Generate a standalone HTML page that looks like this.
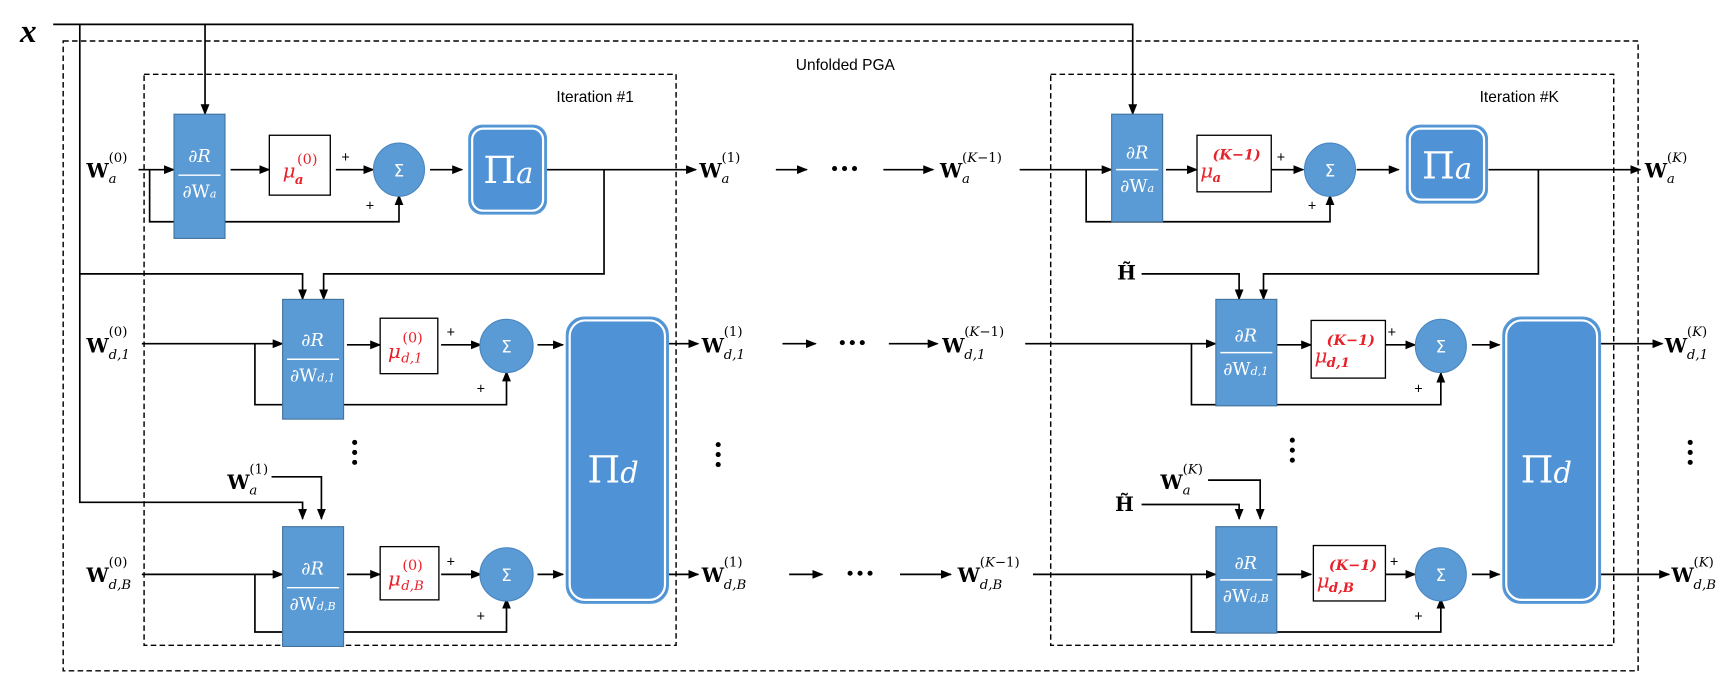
<!DOCTYPE html>
<html><head><meta charset="utf-8"><style>html,body{margin:0;padding:0;background:#fff;}svg{display:block}</style></head>
<body>
<svg width="1729" height="693" viewBox="0 0 1560 625" preserveAspectRatio="none" xmlns="http://www.w3.org/2000/svg" font-family="Liberation Serif, serif">
<defs>
<marker id="ar" markerWidth="10" markerHeight="8" refX="9" refY="4" orient="auto" markerUnits="userSpaceOnUse"><path d="M0,0 L10,4 L0,8 Z" fill="#000"/></marker>
</defs>
<g fill="none" stroke="#000" stroke-width="1.3" stroke-dasharray="5,3">
<rect x="57" y="37" width="1421" height="568"/>
<rect x="130" y="67" width="480" height="515"/>
<rect x="948" y="67" width="508" height="515"/>
</g>
<g font-family="Liberation Sans, sans-serif" font-size="14" fill="#000">
<text x="718" y="63">Unfolded PGA</text>
<text x="502" y="92">Iteration #1</text>
<text x="1335" y="92">Iteration #K</text>
</g>
<text x="18" y="38" font-size="30" font-style="italic" font-weight="bold">x</text>

<g fill="none" stroke="#000" stroke-width="1.5">
<path d="M48,22 H1022 V103" marker-end="url(#ar)"/>
<path d="M185,22 V103" marker-end="url(#ar)"/>
<path d="M72,22 V453 H273 V468" marker-end="url(#ar)"/>
<path d="M72,247 H273 V270" marker-end="url(#ar)"/>
<path d="M125,153 H157" marker-end="url(#ar)"/>
<path d="M135,153 V200 H360 V176" marker-end="url(#ar)"/>
<path d="M208,153 H243" marker-end="url(#ar)"/>
<path d="M303,153 H337" marker-end="url(#ar)"/>
<path d="M388,153 H417" marker-end="url(#ar)"/>
<path d="M493,153 H628" marker-end="url(#ar)"/>
<path d="M545,153 V247 H292 V270" marker-end="url(#ar)"/>
<path d="M128,310 H255" marker-end="url(#ar)"/>
<path d="M230,310 V365 H457 V335" marker-end="url(#ar)"/>
<path d="M313,311 H343" marker-end="url(#ar)"/>
<path d="M398,311 H434" marker-end="url(#ar)"/>
<path d="M485,311 H508" marker-end="url(#ar)"/>
<path d="M603,310 H630" marker-end="url(#ar)"/>
<path d="M245,430 H290 V468" marker-end="url(#ar)"/>
<path d="M128,518 H255" marker-end="url(#ar)"/>
<path d="M230,518 V570 H457 V540" marker-end="url(#ar)"/>
<path d="M313,518 H343" marker-end="url(#ar)"/>
<path d="M398,518 H434" marker-end="url(#ar)"/>
<path d="M485,518 H508" marker-end="url(#ar)"/>
<path d="M603,518 H630" marker-end="url(#ar)"/>
<!-- middle -->
<path d="M700,153 H728" marker-end="url(#ar)"/>
<path d="M797,153 H842" marker-end="url(#ar)"/>
<path d="M706,310 H736" marker-end="url(#ar)"/>
<path d="M802,310 H846" marker-end="url(#ar)"/>
<path d="M712,518 H742" marker-end="url(#ar)"/>
<path d="M812,518 H858" marker-end="url(#ar)"/>
</g>
<g fill="none" stroke="#000" stroke-width="1.5">
<path d="M920,153 H1003" marker-end="url(#ar)"/>
<path d="M980,153 V200 H1200 V176" marker-end="url(#ar)"/>
<path d="M1052,153 H1080" marker-end="url(#ar)"/>
<path d="M1147,153 H1176" marker-end="url(#ar)"/>
<path d="M1224,153 H1262" marker-end="url(#ar)"/>
<path d="M1343,153 H1480" marker-end="url(#ar)"/>
<path d="M1388,153 V247 H1140 V270" marker-end="url(#ar)"/>
<path d="M1030,247 H1118 V270" marker-end="url(#ar)"/>
<path d="M925,310 H1097" marker-end="url(#ar)"/>
<path d="M1075,310 V365 H1300 V336" marker-end="url(#ar)"/>
<path d="M1152,311 H1183" marker-end="url(#ar)"/>
<path d="M1250,311 H1277" marker-end="url(#ar)"/>
<path d="M1328,311 H1353" marker-end="url(#ar)"/>
<path d="M1443,310 H1500" marker-end="url(#ar)"/>
<path d="M1090,433 H1137 V468" marker-end="url(#ar)"/>
<path d="M1030,455 H1118 V468" marker-end="url(#ar)"/>
<path d="M932,518 H1097" marker-end="url(#ar)"/>
<path d="M1075,518 V570 H1300 V540" marker-end="url(#ar)"/>
<path d="M1152,518 H1183" marker-end="url(#ar)"/>
<path d="M1250,518 H1277" marker-end="url(#ar)"/>
<path d="M1328,518 H1353" marker-end="url(#ar)"/>
<path d="M1443,518 H1506" marker-end="url(#ar)"/>
</g>

<g font-family="Liberation Sans, sans-serif" font-size="13" fill="#000">
<text x="308" y="146">+</text><text x="330" y="190">+</text>
<text x="403" y="304">+</text><text x="430" y="355">+</text>
<text x="403" y="511">+</text><text x="430" y="560">+</text>
<text x="1152" y="146">+</text><text x="1180" y="190">+</text>
<text x="1252" y="304">+</text><text x="1276" y="355">+</text>
<text x="1254" y="511">+</text><text x="1276" y="560">+</text>
</g>

<g fill="#5b9bd5" stroke="#41719c" stroke-width="1">
<rect x="157" y="103" width="46" height="112"/>
<rect x="255" y="270" width="55" height="108"/>
<rect x="255" y="475" width="55" height="108"/>
<rect x="1003" y="103" width="46" height="97"/>
<rect x="1097" y="270" width="55" height="96"/>
<rect x="1097" y="475" width="55" height="96"/>
</g>
<g stroke="#fff" stroke-width="1.3">
<path d="M161,158 H199"/><path d="M259,324 H306"/><path d="M259,530 H306"/>
<path d="M1007,153 H1045"/><path d="M1101,318 H1148"/><path d="M1101,523 H1148"/>
</g>
<g fill="#fff" font-family="DejaVu Serif, serif" font-size="16" text-anchor="middle">
<text x="180" y="146" font-style="italic">∂R</text><text x="180" y="178">∂W<tspan font-size="10" font-style="italic">a</tspan></text>
<text x="282" y="312" font-style="italic">∂R</text><text x="282" y="344">∂W<tspan font-size="10" font-style="italic">d,1</tspan></text>
<text x="282" y="518" font-style="italic">∂R</text><text x="282" y="550">∂W<tspan font-size="10" font-style="italic">d,B</tspan></text>
<text x="1026" y="143" font-style="italic">∂R</text><text x="1026" y="173">∂W<tspan font-size="10" font-style="italic">a</tspan></text>
<text x="1124" y="308" font-style="italic">∂R</text><text x="1124" y="338">∂W<tspan font-size="10" font-style="italic">d,1</tspan></text>
<text x="1124" y="513" font-style="italic">∂R</text><text x="1124" y="543">∂W<tspan font-size="10" font-style="italic">d,B</tspan></text>
</g>

<g fill="#fff" stroke="#000" stroke-width="1.2">
<rect x="243" y="122" width="55" height="54"/>
<rect x="343" y="287" width="52" height="50"/>
<rect x="343" y="493" width="53" height="48"/>
<rect x="1080" y="122" width="67" height="51"/>
<rect x="1183" y="289" width="67" height="52"/>
<rect x="1185" y="492" width="65" height="50"/>
</g>
<g fill="#e8222a" font-family="DejaVu Serif, serif" font-style="italic">
<text x="255" y="160" font-size="18">μ</text><text x="268" y="148" font-size="13" font-style="normal">(0)</text><text x="266" y="166" font-size="12" font-weight="bold">a</text>
<text x="350" y="323" font-size="18">μ</text><text x="363" y="309" font-size="13" font-style="normal">(0)</text><text x="362" y="327" font-size="12">d,1</text>
<text x="350" y="528" font-size="18">μ</text><text x="363" y="514" font-size="13" font-style="normal">(0)</text><text x="362" y="532" font-size="12">d,B</text>
<text x="1083" y="160" font-size="18">μ</text><text x="1094" y="144" font-size="13" font-weight="bold">(K−1)</text><text x="1094" y="164" font-size="12" font-weight="bold">a</text>
<text x="1186" y="327" font-size="18">μ</text><text x="1197" y="311" font-size="13" font-weight="bold">(K−1)</text><text x="1197" y="331" font-size="12" font-weight="bold">d,1</text>
<text x="1188" y="530" font-size="18">μ</text><text x="1199" y="514" font-size="13" font-weight="bold">(K−1)</text><text x="1199" y="534" font-size="12" font-weight="bold">d,B</text>
</g>

<g fill="#5b9bd5" stroke="#4a86c0" stroke-width="1">
<ellipse cx="360" cy="153" rx="23" ry="24"/>
<ellipse cx="457" cy="312" rx="24" ry="24"/>
<ellipse cx="457" cy="518" rx="24" ry="24"/>
<ellipse cx="1200" cy="153" rx="23" ry="24"/>
<ellipse cx="1300" cy="312" rx="23" ry="24"/>
<ellipse cx="1300" cy="518" rx="23" ry="24"/>
</g>
<g fill="#fff" font-family="DejaVu Sans, sans-serif" font-size="15" text-anchor="middle">
<text x="360" y="159">Σ</text><text x="457" y="318">Σ</text><text x="457" y="524">Σ</text>
<text x="1200" y="159">Σ</text><text x="1300" y="318">Σ</text><text x="1300" y="524">Σ</text>
</g>

<g fill="#4f93d6" stroke="#5b9bd5" stroke-width="1.2">
<rect x="423" y="113" width="70" height="80" rx="12"/>
<rect x="511" y="286" width="92" height="258" rx="16"/>
<rect x="1269" y="113" width="73" height="70" rx="12"/>
<rect x="1356" y="286" width="88" height="258" rx="16"/>
</g>
<g fill="none" stroke="#fff" stroke-width="2">
<rect x="426" y="116" width="64" height="74" rx="10"/>
<rect x="514" y="289" width="86" height="252" rx="14"/>
<rect x="1272" y="116" width="67" height="64" rx="10"/>
<rect x="1359" y="289" width="82" height="252" rx="14"/>
</g>
<g fill="#fff" font-family="DejaVu Serif, serif">
<text x="436" y="165" font-size="34">Π<tspan font-size="26" font-style="italic">a</tspan></text>
<text x="530" y="435" font-size="34">Π<tspan font-size="26" font-style="italic">d</tspan></text>
<text x="1283" y="161" font-size="34">Π<tspan font-size="26" font-style="italic">a</tspan></text>
<text x="1372" y="435" font-size="34">Π<tspan font-size="26" font-style="italic">d</tspan></text>
</g>

<g fill="#000" font-family="DejaVu Serif, serif">
<g font-size="18" font-weight="bold">
<text x="78" y="160">W</text><text x="78" y="318">W</text><text x="78" y="525">W</text>
<text x="205" y="441">W</text>
<text x="631" y="160">W</text><text x="633" y="318">W</text><text x="633" y="525">W</text>
<text x="848" y="160">W</text><text x="850" y="318">W</text><text x="864" y="525">W</text>
<text x="1047" y="441">W</text>
<text x="1484" y="160">W</text><text x="1502" y="318">W</text><text x="1508" y="525">W</text>
<text x="1008" y="252">H̃</text><text x="1006" y="461">H̃</text>
</g>
<g font-size="12">
<text x="98" y="146">(0)</text><text x="98" y="303">(0)</text><text x="98" y="511">(0)</text>
<text x="225" y="427">(1)</text>
<text x="651" y="146">(1)</text><text x="653" y="303">(1)</text><text x="653" y="511">(1)</text>
<text x="868" y="146">(<tspan font-style="italic">K</tspan>−1)</text><text x="870" y="303">(<tspan font-style="italic">K</tspan>−1)</text><text x="884" y="511">(<tspan font-style="italic">K</tspan>−1)</text>
<text x="1067" y="427">(<tspan font-style="italic">K</tspan>)</text>
<text x="1504" y="146">(<tspan font-style="italic">K</tspan>)</text><text x="1522" y="303">(<tspan font-style="italic">K</tspan>)</text><text x="1528" y="511">(<tspan font-style="italic">K</tspan>)</text>
</g>
<g font-size="12" font-style="italic">
<text x="98" y="165">a</text><text x="98" y="324">d,1</text><text x="98" y="531">d,B</text>
<text x="225" y="446">a</text>
<text x="651" y="165">a</text><text x="653" y="324">d,1</text><text x="653" y="531">d,B</text>
<text x="868" y="165">a</text><text x="870" y="324">d,1</text><text x="884" y="531">d,B</text>
<text x="1067" y="446">a</text>
<text x="1504" y="165">a</text><text x="1522" y="324">d,1</text><text x="1528" y="531">d,B</text>
</g>
</g>

<g fill="#000">
<circle cx="753" cy="152" r="2.3"/><circle cx="762" cy="152" r="2.3"/><circle cx="771" cy="152" r="2.3"/>
<circle cx="760" cy="309" r="2.3"/><circle cx="769" cy="309" r="2.3"/><circle cx="778" cy="309" r="2.3"/>
<circle cx="767" cy="517" r="2.3"/><circle cx="776" cy="517" r="2.3"/><circle cx="785" cy="517" r="2.3"/>
<circle cx="320" cy="399" r="2.3"/><circle cx="320" cy="408" r="2.3"/><circle cx="320" cy="417" r="2.3"/>
<circle cx="648" cy="401" r="2.3"/><circle cx="648" cy="410" r="2.3"/><circle cx="648" cy="419" r="2.3"/>
<circle cx="1166" cy="397" r="2.3"/><circle cx="1166" cy="406" r="2.3"/><circle cx="1166" cy="415" r="2.3"/>
<circle cx="1525" cy="399" r="2.3"/><circle cx="1525" cy="408" r="2.3"/><circle cx="1525" cy="417" r="2.3"/>
</g>
</svg>
</body></html>
